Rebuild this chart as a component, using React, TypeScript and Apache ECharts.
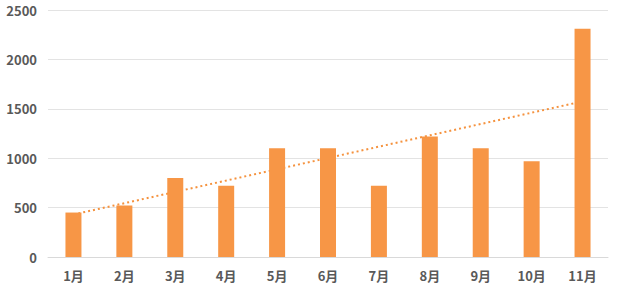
import React, { useEffect, useRef } from "react";
import * as echarts from "echarts";

const categories = ["1月", "2月", "3月", "4月", "5月", "6月", "7月", "8月", "9月", "10月", "11月"];
const values = [450, 520, 800, 720, 1100, 1100, 720, 1220, 1100, 970, 2310];
// Linear trend line: value at first and last month
const trendValues = [430, null, null, null, null, null, null, null, null, null, 1575];
const yTicks = { min: 0, max: 2500, interval: 500 };

export default function App() {
  const ref = useRef<HTMLDivElement>(null);
  useEffect(() => {
    const chart = echarts.init(ref.current!, undefined, { renderer: "svg" });
    chart.setOption({
      animation: false,
      grid: { left: 48, right: 32, top: 10, bottom: 39 },
      xAxis: {
        type: "category",
        data: categories,
        axisTick: { show: false },
        axisLine: { lineStyle: { color: "#d9d9d9", width: 1 } },
        axisLabel: {
          color: "#595959",
          fontSize: 13,
          fontWeight: "bold",
          fontFamily: "Noto Sans CJK SC",
          margin: 12,
        },
      },
      yAxis: {
        type: "value",
        min: yTicks.min,
        max: yTicks.max,
        interval: yTicks.interval,
        axisLine: { show: false },
        axisTick: { show: false },
        splitLine: { lineStyle: { color: "#e3e3e3", width: 1 } },
        axisLabel: {
          color: "#595959",
          fontSize: 13,
          fontWeight: "bold",
          fontFamily: "Noto Sans CJK SC",
          margin: 11,
          formatter: (v: number) => String(v),
        },
      },
      series: [
        {
          type: "line",
          data: trendValues,
          connectNulls: true,
          symbol: "none",
          z: 1,
          lineStyle: { color: "#F5923E", width: 2, type: [2, 3] },
        },
        {
          type: "bar",
          data: values,
          barWidth: 16,
          z: 3,
          itemStyle: { color: "#F79646" },
        },
      ],
    });
    return () => chart.dispose();
  }, []);
  return <div ref={ref} style={{ width: 640, height: 296, position: "absolute", left: 0, top: 0 }} />;
}
